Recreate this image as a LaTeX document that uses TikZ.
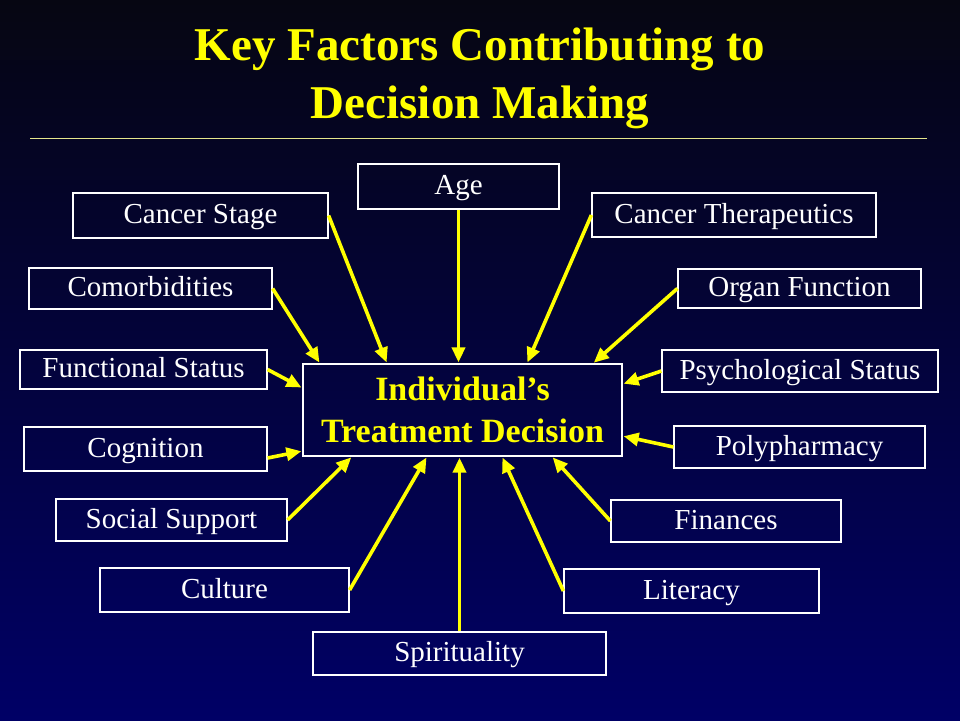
\documentclass[tikz,border=0pt]{standalone}
\usepackage{fontspec}
\setmainfont{Liberation Serif}
\usetikzlibrary{arrows.meta}
\definecolor{slidetop}{RGB}{6,6,18}
\definecolor{slidemid}{RGB}{0,0,72}
\definecolor{slidebot}{RGB}{0,0,102}
\definecolor{keyyellow}{RGB}{255,255,0}
\definecolor{rulecol}{RGB}{230,230,140}
\begin{document}
\begin{tikzpicture}[x=1pt,y=-1pt,
  factor/.style={draw=white,line width=1.2pt,text=white,inner sep=0pt,
    font=\fontsize{29}{34}\selectfont,text height=21pt,text depth=5pt},
  decision/.style={draw=white,line width=1.2pt,text=keyyellow,inner sep=0pt,
    align=center,font=\bfseries\fontsize{34}{41.7}\selectfont},
  feed/.style={draw=keyyellow,line width=3.6pt,-{Triangle[length=15pt,width=13pt]},shorten >=1pt}]
\shade [top color=slidetop,middle color=slidemid,bottom color=slidebot] (0,0) rectangle (960,720);
\useasboundingbox (0,0) rectangle (960,720);
\node [text=keyyellow,align=center,inner sep=0pt,font=\bfseries\fontsize{47}{58}\selectfont] (title) at (480,78) {Key Factors Contributing to\\Decision Making};
\draw [rulecol,line width=1pt] (30,138.5) -- (927,138.5);
\node [decision,minimum width=319pt,minimum height=92pt] (dec) at (462.5,410) {Individual’s\\Treatment Decision};
\node [factor,minimum width=201pt,minimum height=45pt] (age) at (458.5,186.5) {Age};
\node [factor,minimum width=255pt,minimum height=45pt] (cs) at (200.5,215.5) {Cancer Stage};
\node [factor,minimum width=243pt,minimum height=41pt] (com) at (150.5,288.5) {Comorbidities};
\node [factor,minimum width=247pt,minimum height=39pt] (fs) at (143.5,369.5) {Functional Status};
\node [factor,minimum width=243pt,minimum height=44pt] (cog) at (145.5,449) {Cognition};
\node [factor,minimum width=231pt,minimum height=42pt] (ss) at (171.5,520) {Social Support};
\node [factor,minimum width=249pt,minimum height=44pt] (cul) at (224.5,590) {Culture};
\node [factor,minimum width=293pt,minimum height=43pt] (sp) at (459.5,653.5) {Spirituality};
\node [factor,minimum width=284pt,minimum height=44pt] (ct) at (734,215) {Cancer Therapeutics};
\node [factor,minimum width=243pt,minimum height=39pt] (of) at (799.5,288.5) {Organ Function};
\node [factor,minimum width=276pt,minimum height=42pt] (ps) at (800,371) {Psychological Status};
\node [factor,minimum width=251pt,minimum height=42pt] (pp) at (799.5,447) {Polypharmacy};
\node [factor,minimum width=230pt,minimum height=42pt] (fin) at (726,521) {Finances};
\node [factor,minimum width=255pt,minimum height=44pt] (lit) at (691.5,591) {Literacy};
\draw [feed] (age.south) -- (age.south |- dec.north);
\draw [feed] (cs.east) -- ([xshift=-75.5pt]dec.north);
\draw [feed] (com.east) -- ([xshift=-142.5pt]dec.north);
\draw [feed] (fs.east) -- ([yshift=22pt]dec.west);
\draw [feed] ([yshift=-9pt]cog.east) -- ([yshift=-41pt]dec.west);
\draw [feed] (ss.east) -- ([xshift=-110.5pt]dec.south);
\draw [feed] (cul.east) -- ([xshift=-35.5pt]dec.south);
\draw [feed] (sp.north) -- (sp.north |- dec.south);
\draw [feed] (ct.west) -- ([xshift=64.5pt]dec.north);
\draw [feed] (of.west) -- ([xshift=130.5pt]dec.north);
\draw [feed] (ps.west) -- ([yshift=26pt]dec.east);
\draw [feed] (pp.west) -- ([yshift=-26pt]dec.east);
\draw [feed] (fin.west) -- ([xshift=89.5pt]dec.south);
\draw [feed] (lit.west) -- ([xshift=39.5pt]dec.south);
\end{tikzpicture}
\end{document}
